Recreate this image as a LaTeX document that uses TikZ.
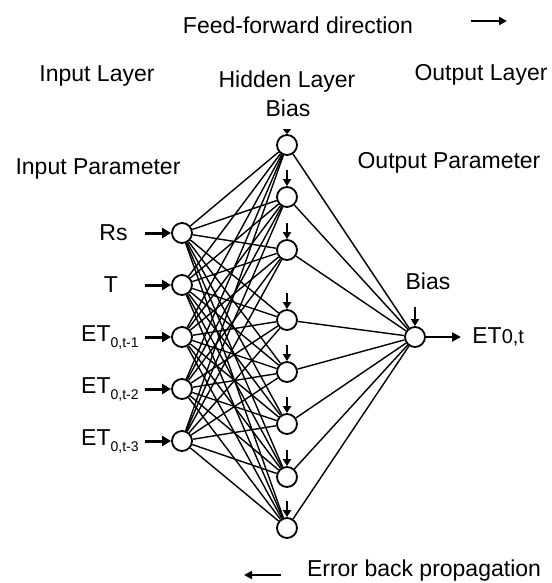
\documentclass[tikz,border=0pt]{standalone}
\usepackage{fontspec}
\setmainfont{Liberation Sans}
\usetikzlibrary{arrows.meta}
\begin{document}
\begin{tikzpicture}[x=1pt, y=-1pt, thick]
  % 1. Styles
  \tikzstyle{Neuron} = [circle, draw, line width=1.8pt, minimum size=20pt, inner sep=0pt]
  \tikzstyle{Txt}    = [font=\fontsize{23}{27}\selectfont, inner sep=0pt]
  \tikzstyle{Link}   = [line width=1.4pt]
  \tikzstyle{Feed}   = [line width=3pt, -{Triangle[length=9pt,width=10pt]}]
  \tikzstyle{BiasArr} = [line width=2pt, -{Triangle[length=7pt,width=8pt]}]
  \useasboundingbox (0,0) rectangle (551,583);

  % 2. Headings
  \node[Txt] (ffText) at (298,25) {Feed-forward direction};
  \node[Txt] (inLayer) at (97,76) {Input Layer};
  \node[Txt] (hidLayer) at (287,82) {Hidden Layer};
  \node[Txt] (hidBias) at (288,108) {Bias};
  \node[Txt] (outLayer) at (481,75) {Output Layer};
  \node[Txt] (inParam) at (98,169) {Input Parameter};
  \node[Txt] (outParam) at (449,163) {Output Parameter};
  \node[Txt] (outBias) at (428,281) {Bias};
  \node[Txt] (ebText) at (424,571) {Error back propagation};

  % direction arrows
  \coordinate (ffA) at (471,21);
  \coordinate (ffB) at (507,21);
  \coordinate (ebA) at (281,575);
  \coordinate (ebB) at (244,575);
  \draw[line width=2.4pt, -{Triangle[length=8pt,width=8pt]}] (ffA) -- (ffB);
  \draw[line width=2.4pt, -{Triangle[length=8pt,width=8pt]}] (ebA) -- (ebB);

  % 3. Neurons
  \foreach \i/\y in {1/233, 2/285, 3/337, 4/389, 5/441}
    \node[Neuron] (in\i) at (182,\y) {};
  \foreach \j/\y in {1/145, 2/197, 3/250, 4/320, 5/372, 6/424, 7/477, 8/528}
    \node[Neuron] (hid\j) at (287,\y) {};
  \node[Neuron] (out) at (415,337) {};

  % 4. Input labels and arrows
  \node[Txt, anchor=east] (lblRs) at (128,233) {Rs};
  \node[Txt] (lblT) at (111,285) {T};
  \foreach \i/\y/\s in {3/337/{0,t-1}, 4/389/{0,t-2}, 5/441/{0,t-3}}
    \node[Txt, anchor=east] (lbl\i) at (139,\y) {ET\raisebox{-6pt}{\fontsize{14}{16}\selectfont\s}};
  \foreach \i/\y in {1/233, 2/285, 3/337, 4/389, 5/441} {
    \coordinate (src\i) at (145,\y);
    \draw[Feed] (src\i) -- (in\i);
  }

  % 5. Weights
  \foreach \i in {1,...,5}
    \foreach \j in {1,...,8}
      \draw[Link] (in\i) -- (hid\j);
  \foreach \j in {1,...,8}
    \draw[Link] (hid\j) -- (out);

  % 6. Bias arrows
  \coordinate (bias1) at (287,129);
  \draw[line width=1pt, -{Triangle[length=5pt,width=8pt]}] (bias1) -- (hid1);
  \foreach \j/\y in {2/197, 3/250, 4/320, 5/372, 6/424, 7/477, 8/528} {
    \coordinate (bias\j) at (287,\y-27);
    \draw[BiasArr] (bias\j) -- (hid\j);
  }
  \coordinate (biasOut) at (415,307);
  \draw[BiasArr] (biasOut) -- (out);

  % 7. Output
  \coordinate (target) at (461,337);
  \draw[line width=2pt, -{Triangle[length=9pt,width=9pt]}] (out) -- (target);
  \node[Txt, anchor=west] (lblOut) at (472,337) {ET{\fontsize{20}{24}\selectfont 0,t}};
\end{tikzpicture}
\end{document}
